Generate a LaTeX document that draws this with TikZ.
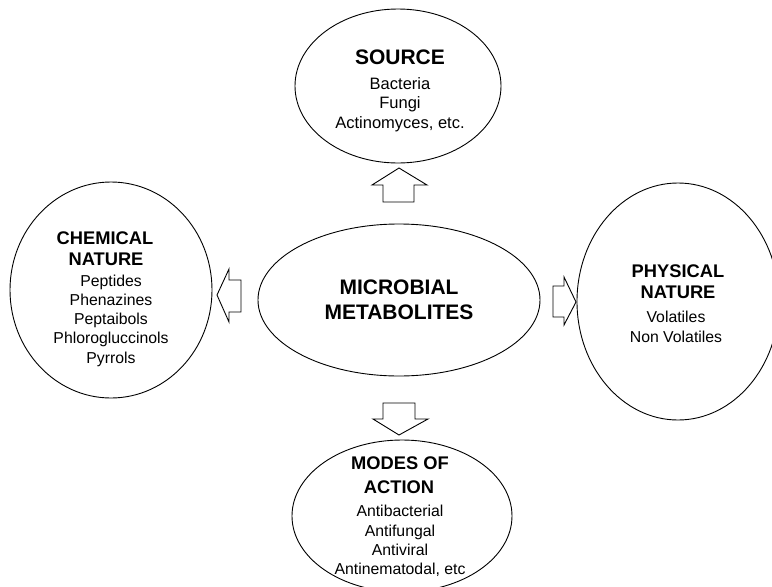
\documentclass[tikz,border=0pt]{standalone}
\usepackage{fontspec}
\setmainfont{Liberation Sans}
\usetikzlibrary{shapes.geometric}

\tikzset{
  bubble/.style={draw, ellipse, line width=0.9pt, inner sep=0pt},
  blockarrow/.style={draw, line width=0.9pt, line join=miter, fill=white},
  bighead/.style={anchor=base, inner sep=0pt, font=\fontsize{21}{24}\selectfont\bfseries},
  head/.style={anchor=base, inner sep=0pt, font=\fontsize{18.3}{21}\selectfont\bfseries},
  item/.style={anchor=base, inner sep=0pt, font=\fontsize{15.8}{19}\selectfont},
  srcitem/.style={anchor=base, inner sep=0pt, font=\fontsize{16.5}{19.5}\selectfont},
}

\begin{document}
\begin{tikzpicture}[x=1pt, y=-1pt]
\useasboundingbox (0,0) rectangle (772,587);

% the five bubbles
\node[bubble, minimum width=206pt, minimum height=154pt] (src) at (398,86) {};
\node[bubble, minimum width=282pt, minimum height=152pt] (mm)  at (399,300) {};
\node[bubble, minimum width=202pt, minimum height=216pt] (chem) at (111,290) {};
\node[bubble, minimum width=202pt, minimum height=237pt] (phys) at (678,301.5) {};
\node[bubble, minimum width=220pt, minimum height=152pt] (mode) at (402,516) {};

% centre
\node[bighead] (mm1) at (399,294.5) {MICROBIAL};
\node[bighead] (mm2) at (399,319.5) {METABOLITES};

% source
\node[bighead] (s0) at (400,64.5) {SOURCE};
\node[srcitem] (s1) at (400,89) {Bacteria};
\node[srcitem] (s2) at (400,108.5) {Fungi};
\node[srcitem] (s3) at (400,128) {Actinomyces, etc.};

% chemical nature
\node[head] (c0) at (105,244.5) {CHEMICAL};
\node[head] (c1) at (106,265.5) {NATURE};
\node[item] (c2) at (111,286) {Peptides};
\node[item] (c3) at (111,305.3) {Phenazines};
\node[item] (c4) at (111,324.6) {Peptaibols};
\node[item] (c5) at (111,343.9) {Phlorogluccinols};
\node[item] (c6) at (111,363.2) {Pyrrols};

% physical nature
\node[head] (p0) at (678,277.5) {PHYSICAL};
\node[head] (p1) at (678,298.5) {NATURE};
\node[item] (p2) at (676,322.7) {Volatiles};
\node[item] (p3) at (676,342.5) {Non Volatiles};

% modes of action
\node[head] (m0) at (400,469.5) {MODES OF};
\node[head] (m1) at (399,493.5) {ACTION};
\node[item] (m2) at (400,516.7) {Antibacterial};
\node[item] (m3) at (400,536) {Antifungal};
\node[item] (m4) at (400,555) {Antiviral};
\node[item] (m5) at (400,574) {Antinematodal, etc};

% hollow block arrows pointing outward from the centre
\draw[blockarrow] (383,202) -- (383,185) -- (372,185) -- (399,168) -- (427,185) -- (414,185) -- (414,202) -- cycle;
\draw[blockarrow] (383,403) -- (383,419) -- (373,419) -- (399,435) -- (428,419) -- (415,419) -- (415,403) -- cycle;
\draw[blockarrow] (241,280) -- (229,280) -- (229,269) -- (217,295) -- (229,322) -- (229,312) -- (241,312) -- cycle;
\draw[blockarrow] (553,286) -- (564,286) -- (564,277) -- (576,302) -- (564,325) -- (564,317) -- (553,317) -- cycle;
\end{tikzpicture}
\end{document}
